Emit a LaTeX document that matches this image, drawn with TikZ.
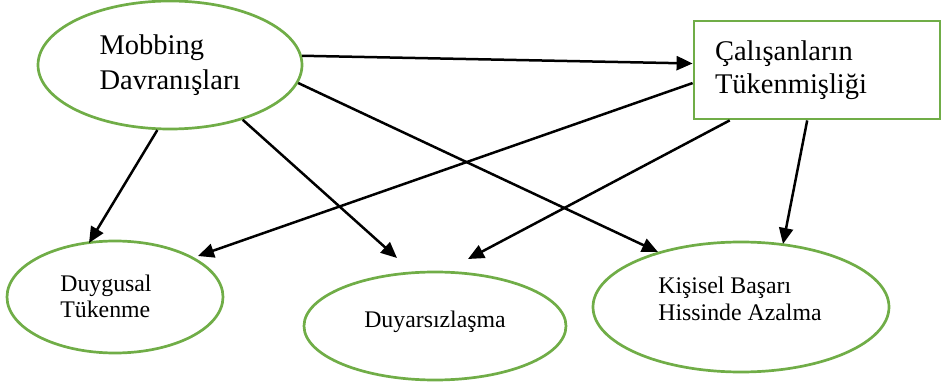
\documentclass[tikz,border=0pt]{standalone}
\usepackage{fontspec}
\setmainfont{Liberation Serif}
\usetikzlibrary{shapes.geometric,arrows.meta}
\definecolor{ogreen}{HTML}{70AD47}
\begin{document}
\begin{tikzpicture}[x=1pt,y=-1pt,
  oval/.style={ellipse,draw=ogreen,line width=2.7pt,inner sep=0pt},
  bigtxt/.style={font=\fontsize{28.5}{34.5}\selectfont,align=left},
  smalltxt/.style={font=\fontsize{23.8}{26.5}\selectfont,align=left,inner sep=0pt},
  arr/.style={line width=2.5pt,-{Triangle[length=16pt,width=14pt]}}]
\useasboundingbox (0,0) rectangle (942,387);
\node[oval,minimum width=264,minimum height=128,bigtxt] (mob) at (170,65) {Mobbing\\Davranışları};
\node[draw=ogreen,line width=2.8pt,minimum width=246,minimum height=98,text width=204,inner xsep=21,bigtxt,font=\fontsize{28.5}{32.5}\selectfont] (calis) at (817,70) {Çalışanların\\Tükenmişliği};
\node[oval,minimum width=216,minimum height=112] (duyg) at (115,297) {};
\node[smalltxt] (duygT) at (106,296.5) {Duygusal\\Tükenme};
\node[oval,minimum width=262,minimum height=108] (duyar) at (435,326) {};
\node[smalltxt] (duyarT) at (435,321.5) {Duyarsızlaşma};
\node[oval,minimum width=296,minimum height=130] (kis) at (741,307) {};
\node[smalltxt] (kisT) at (740,299) {Kişisel Başarı\\Hissinde Azalma};
\coordinate (t2) at (658,252);
\coordinate (t3) at (89,243);
\coordinate (t4) at (397,258);
\coordinate (t5) at (198,256);
\coordinate (t6) at (468,259);
\coordinate (t7) at (783,244);
\draw[arr] (mob.4) -- (calis.177);
\draw[arr] (mob.-8) -- (t2);
\draw[arr] (mob.-101) -- (t3);
\draw[arr] (mob.-37) -- (t4);
\draw[arr] (calis.186) -- (t5);
\draw[arr] (calis.210) -- (t6);
\draw[arr] (calis.259) -- (t7);
\end{tikzpicture}
\end{document}
